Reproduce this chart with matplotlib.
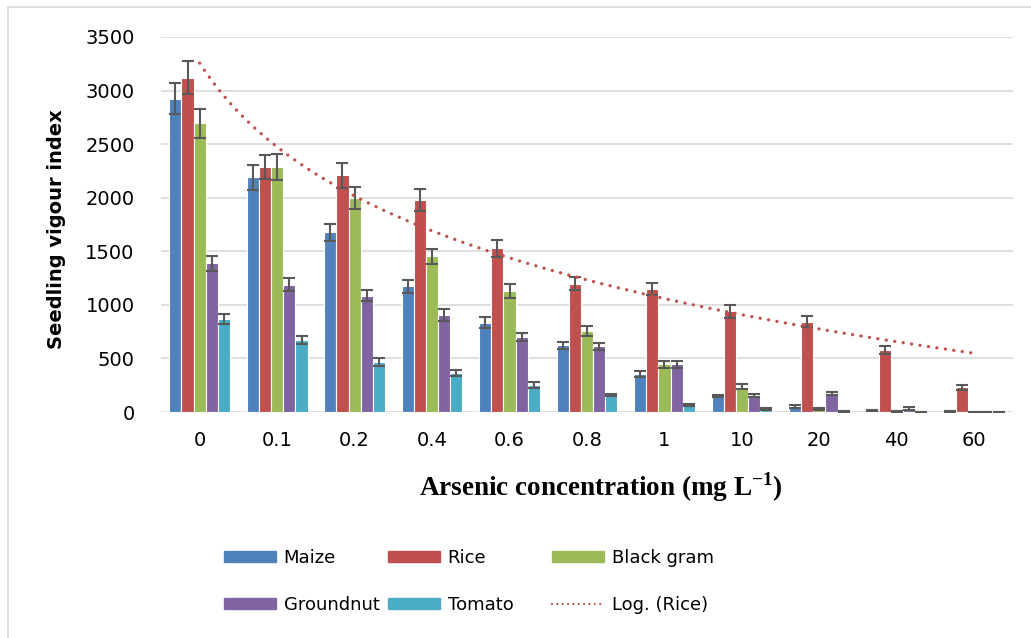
import numpy as np
import matplotlib
matplotlib.use("Agg")
import matplotlib.pyplot as plt
from matplotlib.patches import Patch, Rectangle
from matplotlib.lines import Line2D

plt.rcParams["font.family"] = ["DejaVu Sans"]
plt.rcParams["mathtext.fontset"] = "custom"
plt.rcParams["mathtext.bf"] = "Liberation Serif:bold"
plt.rcParams["mathtext.rm"] = "Liberation Serif:bold"

# data
conc = ["0", "0.1", "0.2", "0.4", "0.6", "0.8", "1", "10", "20", "40", "60"]
maize = [2926, 2189, 1676, 1172, 833, 622, 351, 149, 50, 15, 4]
maize_err = [147, 115, 80, 59, 53, 34, 28, 10, 12, 5, 3]
rice = [3122, 2285, 2208, 1978, 1527, 1197, 1144, 940, 843, 578, 230]
rice_err = [155, 115, 115, 102, 80, 62, 56, 60, 53, 34, 25]
blackgram = [2693, 2288, 1996, 1452, 1129, 756, 445, 236, 31, 3, 2]
blackgram_err = [133, 119, 100, 71, 62, 43, 31, 22, 8, 3, 2]
groundnut = [1387, 1188, 1085, 905, 700, 613, 445, 155, 171, 31, 2]
groundnut_err = [68, 62, 53, 53, 40, 34, 31, 16, 15, 13, 2]
tomato = [868, 672, 466, 361, 255, 158, 65, 28, 4, 2, 1]
tomato_err = [46, 37, 38, 28, 28, 10, 13, 5, 4, 2, 1]

names = ["Maize", "Rice", "Black gram", "Groundnut", "Tomato"]
series = [maize, rice, blackgram, groundnut, tomato]
errs = [maize_err, rice_err, blackgram_err, groundnut_err, tomato_err]
colors = ["#4F81BD", "#C0504D", "#9BBB59", "#8064A2", "#4BACC6"]

fig = plt.figure(figsize=(10.31, 6.38), dpi=100)
ax = fig.add_axes([161 / 1031, 1 - 412 / 638, 852 / 1031, 375 / 638])

x = np.arange(len(conc))
w = 0.157
for k in range(5):
    ax.bar(x + (k - 2) * w, series[k], width=w, color=colors[k],
           edgecolor="white", linewidth=0.8, zorder=3)
    ax.errorbar(x + (k - 2) * w, series[k], yerr=errs[k], fmt="none",
                ecolor="#595959", elinewidth=1.5, capsize=4.2, capthick=1.5,
                zorder=4)

# logarithmic trendline of rice, like Excel's Log. trendline
a, b = np.polyfit(np.log(x + 1), rice, 1)
xt = np.linspace(0, 10, 200)
ax.plot(xt, a * np.log(xt + 1) + b, color="#C0504D", lw=2.4,
        ls=(0, (0.01, 2.55)), dash_capstyle="round", zorder=5)

ax.set_xlim(-0.5, 10.5)
ax.set_ylim(0, 3500)
ax.set_yticks(range(0, 3501, 500))
ax.set_xticks(x)
ax.set_xticklabels(conc)
ax.tick_params(axis="y", length=0, pad=19, labelsize=14)
ax.tick_params(axis="x", length=0, pad=14, labelsize=14)
ax.grid(axis="y", color="#D9D9D9", lw=1.2, zorder=0)
for s in ax.spines.values():
    s.set_visible(False)

fig.text(57 / 1031, 1 - 229 / 638, "Seedling vigour index", rotation=90,
         ha="center", va="center", fontsize=14, fontweight="bold")
fig.text(601 / 1031, 1 - 487 / 638,
         r"Arsenic concentration (mg L$^{\mathbf{-1}}$)",
         ha="center", va="center", fontsize=19.5, fontweight="bold",
         family="Liberation Serif")

# legend: three columns placed like the original
handles = [Patch(color=c) for c in colors]
trend = Line2D([], [], color="#C0504D", lw=1.6, ls=(0, (0.01, 2.4)),
               dash_capstyle="round")
cols = [([handles[0], handles[3]], ["Maize", "Groundnut"], 224),
        ([handles[1], handles[4]], ["Rice", "Tomato"], 388),
        ([handles[2], trend], ["Black gram", "Log. (Rice)"], 552)]
for h, labs, px in cols:
    fig.legend(h, labs, loc="upper left",
               bbox_to_anchor=(px / 1031, 1 - 549 / 638),
               frameon=False, fontsize=13, borderpad=0, borderaxespad=0,
               handlelength=2.9, handleheight=0.55, handletextpad=0.4,
               labelspacing=1.6)

fig.add_artist(Rectangle((8 / 1031, -0.1), 2, 1.1 - 7 / 638,
                         transform=fig.transFigure, fill=False,
                         edgecolor="#D9D9D9", lw=1.2))

fig.savefig("out.png", dpi=100)
